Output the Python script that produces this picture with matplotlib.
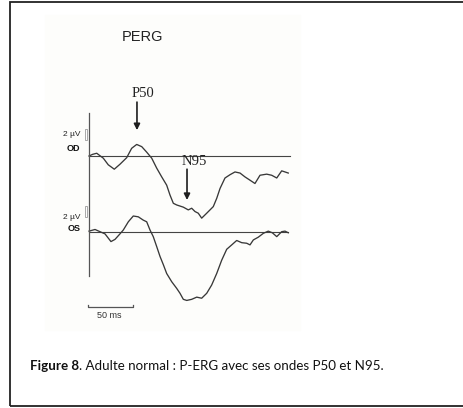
import matplotlib
matplotlib.use("Agg")
import matplotlib.pyplot as plt
from matplotlib.patches import Rectangle

# PERG traces, time in ms and amplitude in µV
od_t = [0, 4, 8.6, 12.2, 15.9, 21.4, 28.1, 34.4, 41.9, 47.4, 53.0, 58.6, 64.1,
        69.7, 75.2, 80.8, 86.3, 90.0, 93.7, 97.4, 104.8, 110.3, 114.1, 117.8,
        121.4, 125.2, 130.8, 138.1, 141.9, 145.6, 151.1, 156.7, 162.2, 167.8,
        173.3, 178.9, 184.4, 190.0, 197.4, 203.0, 208.6, 214.1, 217.8, 221.4]
od_uv = [0.0, 0.3, 0.5, 0.05, -0.4, -1.6, -2.4, -1.5, -0.3, 1.4, 2.1, 1.7, 0.7,
         -0.4, -2.2, -3.8, -5.3, -7.1, -8.6, -8.9, -9.3, -9.8, -9.5, -10.1,
         -10.4, -11.3, -10.4, -9.2, -7.7, -5.9, -4.0, -3.4, -2.9, -3.1,
         -3.8, -4.4, -5.0, -3.5, -3.3, -3.5, -4.0, -2.7, -2.9, -3.1]

os_t = [0, 6.7, 12.2, 17.8, 24.4, 28.9, 34.4, 38.1, 43.7, 49.2, 54.8, 60.3,
        64.1, 67.8, 71.4, 75.2, 78.9, 82.6, 86.3, 91.9, 97.4, 101.1, 104.8,
        108.6, 114.1, 119.7, 125.2, 130.8, 136.3, 141.9, 147.4, 153.0, 158.6,
        164.1, 169.7, 175.2, 178.9, 182.6, 188.1, 193.7, 199.2, 203.7, 208.6,
        214.1, 217.8, 221.4]
os_uv = [0.1, 0.4, 0.0, -0.4, -1.8, -1.4, -0.4, 0.3, 1.8, 2.85, 2.7, 2.1,
         1.8, 0.3, -0.9, -2.7, -4.5, -6.0, -7.6, -9.1, -10.3, -11.2, -12.3,
         -12.5, -12.3, -11.9, -12.1, -11.2, -9.7, -7.6, -5.2, -3.2, -2.4,
         -1.6, -2.0, -2.1, -2.4, -1.5, -1.0, -0.3, 0.1, -0.2, -0.9,
         0.0, 0.1, -0.2]

peak_labels = ["P50", "N95"]
eye_labels = ["OD", "OS"]
caption_bold = "Figure 8"
caption_rest = ". Adulte normal : P-ERG avec ses ondes P50 et N95."

W, H = 464, 408
fig = plt.figure(figsize=(W / 100, H / 100), dpi=100)

# pixel mapping: 0 ms at x=89, 0.9 px/ms ; OD baseline at y=156, 5.5 px/µV
x0, kx = 89, 0.9
y0, ky = 156, 5.5
os_shift = -13.76


def fx(px):
    return px / W


def fy(py):
    return 1 - py / H


# faint scanned-image background
fig.patches.append(Rectangle((fx(45), fy(330)), 255 / W, 315 / H,
                             transform=fig.transFigure, color="#fdfdfb", zorder=-5))

ax = fig.add_axes([0, 0, 1, 1], zorder=2)
ax.set_xlim(-x0 / kx, (W - x0) / kx)
ax.set_ylim((y0 - H) / ky, y0 / ky)
ax.axis("off")
ax.patch.set_alpha(0)

trace_col = "#383838"
ax.plot([0, 223], [0, 0], color="#444444", lw=0.8)
ax.plot([0, 221], [os_shift, os_shift], color="#444444", lw=0.8)
ax.plot(od_t, od_uv, color=trace_col, lw=0.95)
ax.plot(os_t, [v + os_shift for v in os_uv], color=trace_col, lw=0.95)

# vertical axis line
ax.plot([0, 0], [7.8, -21.8], color="#555555", lw=0.9)

# 2 µV calibration boxes
for base in [2.9, os_shift + 2.67]:
    ax.add_patch(Rectangle((-4.1, base), 2.2, 2.0, facecolor="white",
                           edgecolor="#9a9a9a", lw=0.6))

# scale bar 50 ms
sb = -27.45
ax.plot([-1, -1, 49, 49], [sb + 0.4, sb, sb, sb + 0.4], color="#555555", lw=0.9)

# arrows
arrow = dict(arrowstyle="-|>", color="#1e1e1e", lw=1.2, mutation_scale=9,
             shrinkA=0, shrinkB=0)
ax.annotate("", xy=(53.3, 4.7), xytext=(53.3, 9.8), arrowprops=arrow)
ax.annotate("", xy=(108.9, -8.0), xytext=(108.9, -2.4), arrowprops=arrow)

# texts
fig.text(fx(142.5), fy(37), "PERG", fontsize=10.5, family="Liberation Sans",
         ha="center", va="center", color="#222222")
fig.text(fx(143), fy(93.5), peak_labels[0], fontsize=10.5, family="Liberation Serif",
         ha="center", va="center", color="#222222")
fig.text(fx(194.5), fy(162), peak_labels[1], fontsize=10.5, family="Liberation Serif",
         ha="center", va="center", color="#222222")
for yl, ye, lab in [(134.3, 148.3, eye_labels[0]), (217.3, 228.3, eye_labels[1])]:
    fig.text(fx(80.5), fy(yl), "2 µV", fontsize=6, family="Liberation Sans",
             ha="right", va="center", color="#222222")
    fig.text(fx(80.5), fy(ye), lab, fontsize=6.5, family="Liberation Sans",
             weight="bold", ha="right", va="center", color="#111111")
fig.text(fx(109.5), fy(316), "50 ms", fontsize=6.5, family="Liberation Sans",
         ha="center", va="center", color="#333333")

# caption
t1 = fig.text(fx(30), fy(366), caption_bold, fontsize=9.6, family="Lato",
              weight="bold", ha="left", va="center", color="#111111")
fig.canvas.draw()
bb = t1.get_window_extent()
fig.text(bb.x1 / W, fy(366), caption_rest, fontsize=9.6, family="Lato",
         ha="left", va="center", color="#111111")

# frame
fig.patches.append(Rectangle((fx(10), fy(406)), 470 / W, 404 / H,
                             transform=fig.transFigure, fill=False,
                             edgecolor="#222222", lw=1.3, zorder=5))

fig.savefig("out.png", dpi=100)
